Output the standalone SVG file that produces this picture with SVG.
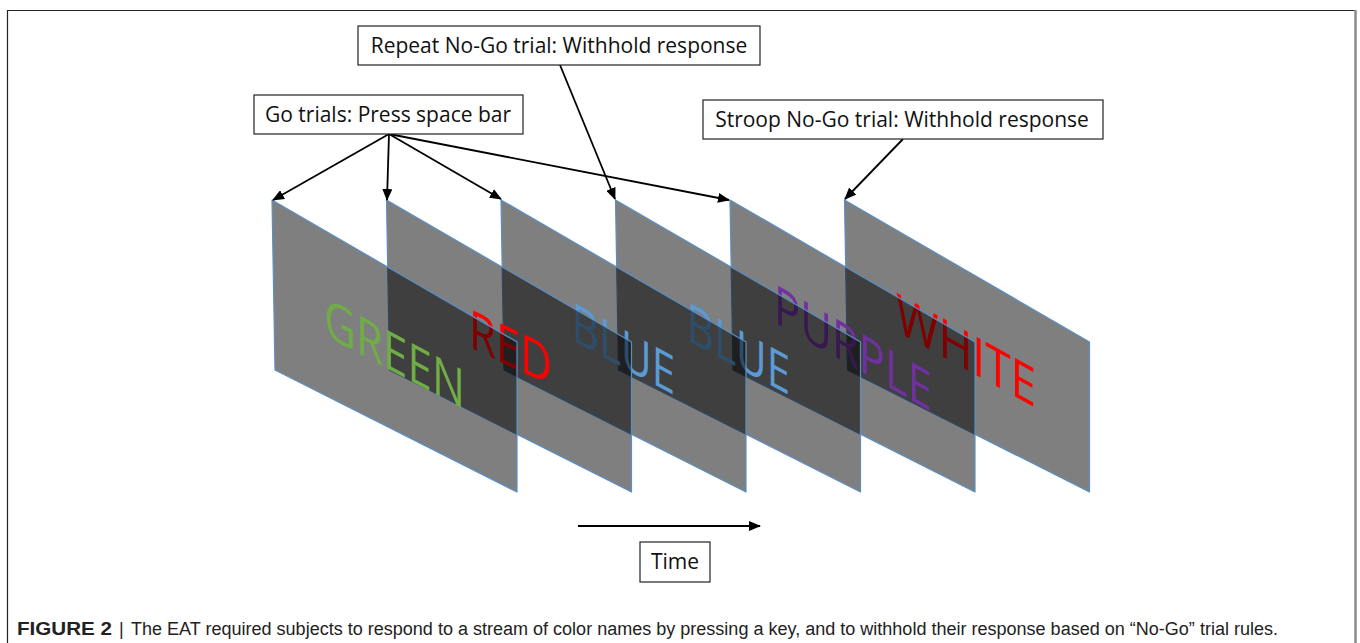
<svg xmlns="http://www.w3.org/2000/svg" width="1360" height="643" viewBox="0 0 1360 643">
<defs>
<style>
.panel{fill:#000;fill-opacity:0.5;stroke:#5a8fc4;stroke-width:1.2;stroke-linejoin:round}
.word{font-family:"Open Sans","DejaVu Sans",sans-serif;font-size:54px}
.box{fill:#fff;stroke:#222;stroke-width:1.2}
.lbl{font-family:"Open Sans","DejaVu Sans",sans-serif;font-size:21px;fill:#111;text-anchor:middle}
.conn{stroke:#000;stroke-width:1.8;fill:none;marker-end:url(#ah)}
.cap{font-family:"Liberation Sans",Arial,sans-serif;font-size:18px;fill:#222}
</style>
<path id="pshape" d="M0,0 L245,142 L245,292 L3,170 Z"/>
<marker id="ah" markerUnits="userSpaceOnUse" markerWidth="12" markerHeight="10" refX="11" refY="5" orient="auto"><path d="M0,0 L12,5 L0,10 Z" fill="#000"/></marker>
</defs>
<rect width="1360" height="643" fill="#fff"/>
<g id="frame">
<path d="M7.5,643 V10.5 H1355" fill="none" stroke="#222" stroke-width="1.2"/>
<line x1="1355.5" y1="10" x2="1355.5" y2="643" stroke="#8a8a8a" stroke-width="2.5"/>
</g>
<g id="panel6"><use href="#pshape" class="panel" transform="translate(844.5,200)"/>
<text class="word" fill="#FF0000" transform="matrix(1 0.55 0 1 896 331)" textLength="140" lengthAdjust="spacingAndGlyphs">WHITE</text></g>
<g id="panel5"><use href="#pshape" class="panel" transform="translate(730,200)"/>
<text class="word" fill="#7030A0" transform="matrix(1 0.57 0 1 774 322)" textLength="158" lengthAdjust="spacingAndGlyphs">PURPLE</text></g>
<g id="panel4"><use href="#pshape" class="panel" transform="translate(615.5,200)"/>
<text class="word" fill="#5B9BD5" transform="matrix(1 0.54 0 1 687 340)" textLength="103" lengthAdjust="spacingAndGlyphs">BLUE</text></g>
<g id="panel3"><use href="#pshape" class="panel" transform="translate(501,200)"/>
<text class="word" fill="#5B9BD5" transform="matrix(1 0.54 0 1 572 340)" textLength="103" lengthAdjust="spacingAndGlyphs">BLUE</text></g>
<g id="panel2"><use href="#pshape" class="panel" transform="translate(386.5,200)"/>
<text class="word" fill="#FF0000" transform="matrix(1 0.47 0 1 469 347)" textLength="83" lengthAdjust="spacingAndGlyphs">RED</text></g>
<g id="panel1"><use href="#pshape" class="panel" transform="translate(272,200)"/>
<text class="word" fill="#70AD47" transform="matrix(1 0.53 0 1 324 335)" textLength="141" lengthAdjust="spacingAndGlyphs">GREEN</text></g>
<g id="connectors">
<line class="conn" x1="389" y1="134" x2="273" y2="200"/>
<line class="conn" x1="389" y1="134" x2="387" y2="200"/>
<line class="conn" x1="389" y1="134" x2="501" y2="199"/>
<line class="conn" x1="389" y1="134" x2="729" y2="200"/>
<line class="conn" x1="560" y1="65" x2="615" y2="199"/>
<line class="conn" x1="903" y1="139" x2="845" y2="199"/>
<line class="conn" x1="578" y1="526" x2="760" y2="526"/>
</g>
<g id="label-go"><rect class="box" x="254" y="95" width="269" height="39"/><text class="lbl" x="388" y="122">Go trials: Press space bar</text></g>
<g id="label-repeat"><rect class="box" x="358" y="26" width="402" height="39"/><text class="lbl" x="559" y="53">Repeat No-Go trial: Withhold response</text></g>
<g id="label-stroop"><rect class="box" x="703" y="100" width="400" height="39"/><text class="lbl" x="902" y="127">Stroop No-Go trial: Withhold response</text></g>
<g id="label-time"><rect class="box" x="640" y="542" width="70" height="40"/><text class="lbl" x="675" y="569">Time</text></g>
<g id="caption">
<text class="cap" x="17" y="635" font-weight="bold" textLength="95" lengthAdjust="spacingAndGlyphs">FIGURE 2</text>
<text class="cap" x="119" y="635">|</text>
<text class="cap" x="131" y="635" textLength="1147" lengthAdjust="spacingAndGlyphs">The EAT required subjects to respond to a stream of color names by pressing a key, and to withhold their response based on “No-Go” trial rules.</text>
</g>
</svg>
